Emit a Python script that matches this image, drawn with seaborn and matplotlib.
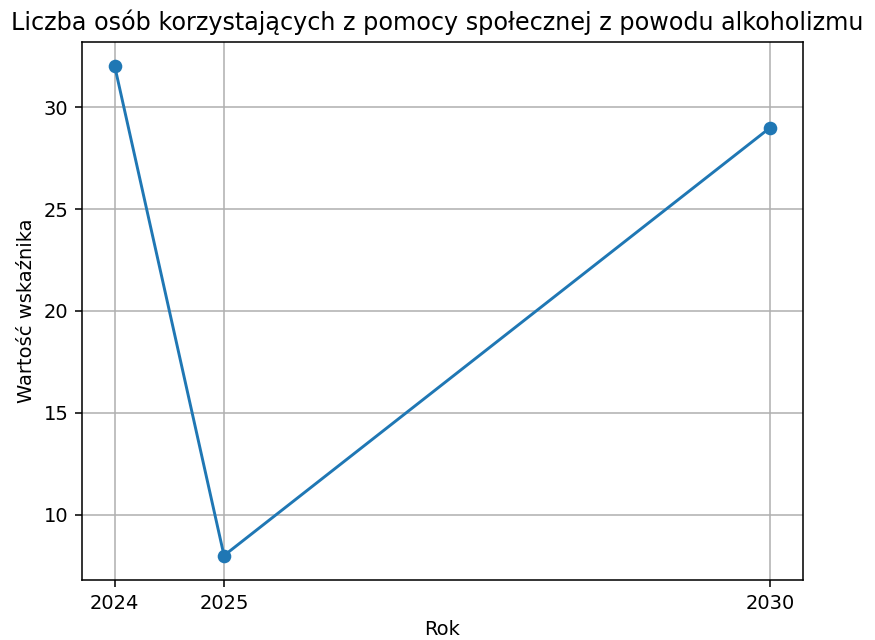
import matplotlib
matplotlib.use("Agg")
import matplotlib.pyplot as plt
import seaborn as sns
import pandas as pd

years = [2024, 2025, 2030]
values = [32, 8, 29]
title = "Liczba osób korzystających z pomocy społecznej z powodu alkoholizmu"
xlabel = "Rok"
ylabel = "Wartość wskaźnika"

sns.set_style("ticks")
plt.rcParams['font.family'] = ['DejaVu Sans']
plt.rcParams['text.color'] = 'black'
plt.rcParams['axes.labelcolor'] = 'black'
plt.rcParams['xtick.color'] = 'black'
plt.rcParams['ytick.color'] = 'black'

df = pd.DataFrame({"Rok": years, "Wartosc": values})

fig = plt.figure(figsize=(875/140, 640/140), dpi=140)
ax = fig.add_axes([82/875, 1-580/640, (803-82)/875, (580-42)/640])
sns.lineplot(data=df, x="Rok", y="Wartosc", marker="o", markersize=7,
             color="#1f77b4", linewidth=1.5, markeredgewidth=0, ax=ax)
ax.set_xticks(years)
ax.set_xticklabels([str(y) for y in years])
ax.set_yticks([10, 15, 20, 25, 30])
ax.grid(True, color="#b0b0b0", linewidth=0.8)
ax.set_title(title, fontsize=12.25, color="black", x=0.492)
ax.set_xlabel(xlabel, fontsize=10, color="black")
ax.set_ylabel(ylabel, fontsize=10, color="black")
ax.tick_params(labelsize=10, direction="out", length=3.5, width=0.8,
               color="black", labelcolor="black")
for s in ax.spines.values():
    s.set_visible(True)
    s.set_color("black")
    s.set_linewidth(0.8)
fig.savefig("out.png", dpi=140)
